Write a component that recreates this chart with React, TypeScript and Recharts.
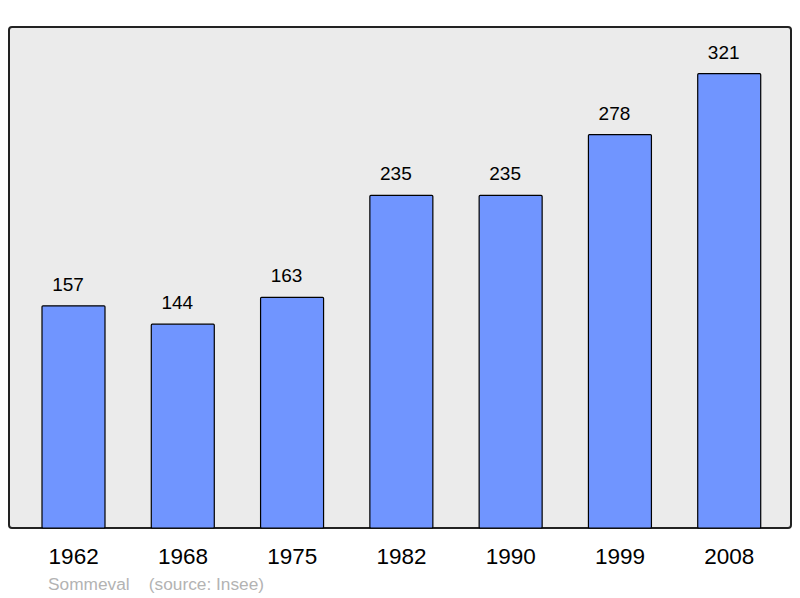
import { BarChart, Bar, XAxis, YAxis, CartesianGrid, LabelList } from 'recharts';

const years = ['1962', '1968', '1975', '1982', '1990', '1999', '2008'];
const population = [157, 144, 163, 235, 235, 278, 321];

const data = years.map((year, i) => ({ year, population: population[i] }));

const font = '"Liberation Sans", Arial, sans-serif';

export default function App() {
  return (
    <div style={{ position: 'relative', width: 800, height: 598, fontFamily: font }}>
      <style>{'body { margin: 0; }'}</style>
      <div
        style={{
          position: 'absolute',
          left: 8,
          top: 26,
          width: 780,
          height: 499,
          background: '#ebebeb',
          border: '2px solid #222',
          borderRadius: 4,
        }}
      />
      <div style={{ position: 'absolute', left: 0, top: 0 }}>
        <BarChart
          width={800}
          height={598}
          data={data}
          margin={{ top: 27, right: 9, left: 9, bottom: 40 }}
        >
          <CartesianGrid stroke="none" fill="none" />
          <XAxis
            dataKey="year"
            height={30}
            axisLine={false}
            tickLine={false}
            tickSize={0}
            tickMargin={20}
            padding={{ left: 10, right: 7 }}
            tick={{ fill: '#000', fontSize: 22.5, fontFamily: font }}
          />
          <YAxis hide domain={[0, 354]} />
          <Bar
            dataKey="population"
            fill="#7095ff"
            stroke="#000"
            strokeWidth={1.2}
            barSize={63}
            radius={1}
            isAnimationActive={false}
          >
            <LabelList
              dataKey="population"
              position="top"
              offset={15}
              dx={-5.5}
              fill="#000"
              fontSize={19}
              fontFamily={font}
            />
          </Bar>
        </BarChart>
      </div>
      <div
        style={{
          position: 'absolute',
          left: 48,
          top: 574,
          fontSize: 17.3,
          color: '#b3b3b3',
          whiteSpace: 'pre',
        }}
      >
        {'Sommeval    (source: Insee)'}
      </div>
    </div>
  );
}
